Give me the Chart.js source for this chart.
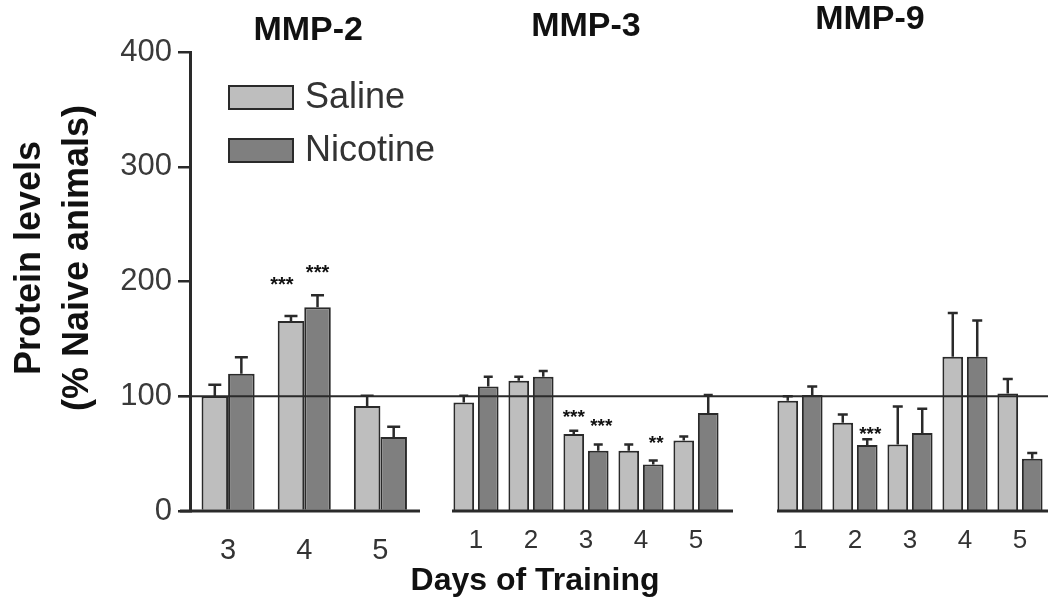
<!DOCTYPE html>
<html>
<head>
<meta charset="utf-8">
<script src="https://cdn.jsdelivr.net/npm/chart.js@4/dist/chart.umd.min.js"></script>
<style>
  html, body { margin: 0; padding: 0; background: #ffffff; }
  #wrap { position: relative; width: 1048px; height: 603px; overflow: hidden; background: #ffffff; }
  #wrap canvas { position: absolute; left: 0; top: 0; }
</style>
</head>
<body>
<div id="wrap">
  <canvas id="c1" width="1048" height="603"></canvas>
  <canvas id="c2" width="1048" height="603"></canvas>
  <canvas id="c3" width="1048" height="603"></canvas>
</div>
<script>
// ---------------- data ----------------
const seriesNames = ['Saline', 'Nicotine'];
const panelTitles = ['MMP-2', 'MMP-3', 'MMP-9'];
const yTitleLines = ['Protein levels', '(% Naive animals)'];
const xTitle = 'Days of Training';
const yTicks = [0, 100, 200, 300, 400];
const referenceLevel = 100;

const mmp2Days = ['3', '4', '5'];
const mmp2Saline = [100, 165.5, 91.5];
const mmp2SalineErr = [10, 4.5, 9];
const mmp2Nicotine = [119.5, 177.5, 64.5];
const mmp2NicotineErr = [14.5, 10.5, 9];
const mmp2SalineStars = ['', '***', ''];
const mmp2NicotineStars = ['', '***', ''];

const mmp3Days = ['1', '2', '3', '4', '5'];
const mmp3Saline = [94.5, 113.5, 67, 52.5, 61.5];
const mmp3SalineErr = [6, 3.5, 3, 5.5, 3.5];
const mmp3Nicotine = [108.5, 117, 52.5, 40.5, 85.5];
const mmp3NicotineErr = [8.5, 5, 5.5, 3.5, 15.5];
const mmp3SalineStars = ['', '', '***', '', ''];
const mmp3NicotineStars = ['', '', '***', '**', ''];

const mmp9Days = ['1', '2', '3', '4', '5'];
const mmp9Saline = [96, 77, 58, 134.5, 102.5];
const mmp9SalineErr = [4, 7, 33, 38, 12.5];
const mmp9Nicotine = [101, 57.5, 68, 134.5, 45.5];
const mmp9NicotineErr = [7.5, 5, 21, 31.5, 5];
const mmp9SalineStars = ['', '', '', '', ''];
const mmp9NicotineStars = ['', '***', '', '', ''];

// ---------------- style ----------------
const FONT = '"Liberation Sans", Arial, Helvetica, sans-serif';
const ink = '#2a2a2a';
const salineFill = '#bebebe';
const nicotineFill = '#7f7f7f';
const CW = 1048, CH = 603;
const plotTop = 52, plotBottom = 511;

Chart.defaults.font.family = FONT;

function makeDatasets(sal, salErr, salStars, nic, nicErr, nicStars) {
  return [
    { label: seriesNames[0], data: sal, errors: salErr, stars: salStars,
      backgroundColor: salineFill, borderColor: ink, borderWidth: 2 },
    { label: seriesNames[1], data: nic, errors: nicErr, stars: nicStars,
      backgroundColor: nicotineFill, borderColor: ink, borderWidth: 2 }
  ];
}

function decor(style) {
  return {
    id: 'decor' + style.key,
    afterDatasetsDraw(chart) {
      const ctx = chart.ctx;
      const a = chart.chartArea;
      const y = chart.scales.y;
      ctx.save();
      // error bars + significance stars
      chart.data.datasets.forEach((ds, di) => {
        const meta = chart.getDatasetMeta(di);
        meta.data.forEach((bar, i) => {
          const v = ds.data[i], e = ds.errors[i];
          const p0 = y.getPixelForValue(v);
          const p1 = y.getPixelForValue(v + e);
          ctx.strokeStyle = ink;
          ctx.lineWidth = 2.5;
          ctx.beginPath();
          ctx.moveTo(bar.x, p0);
          ctx.lineTo(bar.x, p1);
          ctx.moveTo(bar.x - style.cap / 2, p1);
          ctx.lineTo(bar.x + style.cap / 2, p1);
          ctx.stroke();
          const s = ds.stars[i];
          if (s) {
            ctx.fillStyle = '#111';
            ctx.font = 'bold ' + style.starSize + 'px ' + FONT;
            ctx.textAlign = 'center';
            ctx.textBaseline = 'alphabetic';
            ctx.fillText(s, bar.x + style.starDx[di], p1 - style.starGap[di] + 0.58 * style.starSize);
          }
        });
      });
      // reference line at naive level
      const yr = y.getPixelForValue(referenceLevel);
      ctx.strokeStyle = ink;
      ctx.lineWidth = 2;
      ctx.beginPath();
      ctx.moveTo(style.refFrom, yr);
      ctx.lineTo(style.refTo, yr);
      ctx.stroke();
      // x axis line
      ctx.lineWidth = 3;
      ctx.beginPath();
      ctx.moveTo(a.left - style.axisExtL, a.bottom);
      ctx.lineTo(a.right + style.axisExtR, a.bottom);
      ctx.stroke();
      // panel title
      ctx.fillStyle = '#111';
      ctx.font = 'bold 34px ' + FONT;
      ctx.textAlign = 'center';
      ctx.textBaseline = 'middle';
      ctx.fillText(style.title, (a.left + a.right) / 2 + style.titleDx, style.titleY);
      ctx.restore();
    }
  };
}

const extrasLeft = {
  id: 'extrasLeft',
  afterDraw(chart) {
    const ctx = chart.ctx;
    ctx.save();
    // legend
    const ds = chart.data.datasets;
    const boxTops = [85, 138];
    ds.forEach((d, i) => {
      ctx.fillStyle = d.backgroundColor;
      ctx.fillRect(228, boxTops[i], 66, 25);
      ctx.strokeStyle = ink;
      ctx.lineWidth = 2;
      ctx.strokeRect(229, boxTops[i] + 1, 64, 23);
      ctx.fillStyle = '#333';
      ctx.font = '36px ' + FONT;
      ctx.textAlign = 'left';
      ctx.textBaseline = 'middle';
      ctx.fillText(d.label, 305, boxTops[i] + 13);
    });
    // y axis title
    ctx.fillStyle = '#111';
    ctx.font = 'bold 36px ' + FONT;
    ctx.textAlign = 'center';
    ctx.textBaseline = 'alphabetic';
    const xs = [40, 88];
    yTitleLines.forEach((t, i) => {
      ctx.save();
      ctx.translate(xs[i], 258);
      ctx.rotate(-Math.PI / 2);
      ctx.fillText(t, 0, 0);
      ctx.restore();
    });
    ctx.restore();
  }
};

const extrasMid = {
  id: 'extrasMid',
  afterDraw(chart) {
    const ctx = chart.ctx;
    ctx.save();
    ctx.fillStyle = '#111';
    ctx.font = 'bold 32px ' + FONT;
    ctx.textAlign = 'center';
    ctx.textBaseline = 'middle';
    ctx.fillText(xTitle, 535, 581);
    ctx.restore();
  }
};

function makeChart(id, labels, datasets, opt) {
  return new Chart(document.getElementById(id), {
    type: 'bar',
    data: { labels: labels, datasets: datasets },
    options: {
      responsive: false,
      devicePixelRatio: 1,
      animation: false,
      events: [],
      layout: { padding: { top: plotTop, bottom: 0, left: opt.padL, right: opt.padR } },
      categoryPercentage: opt.catPct,
      barPercentage: opt.barPct,
      plugins: { legend: { display: false }, tooltip: { enabled: false }, title: { display: false } },
      scales: {
        x: {
          type: 'category',
          offset: true,
          grid: { display: false, drawTicks: false },
          border: { display: false },
          ticks: { color: '#333', font: { size: opt.xFont }, padding: opt.xPad, maxRotation: 0 },
          afterFit(scale) { scale.height = CH - plotBottom; }
        },
        y: {
          display: opt.showY,
          min: 0, max: 400,
          afterBuildTicks(scale) { scale.ticks = yTicks.map(v => ({ value: v })); },
          ticks: { color: '#3a3a3a', font: { size: 31 }, padding: 6 },
          grid: { drawOnChartArea: false, drawTicks: true, tickLength: 12, color: ink, lineWidth: 2.5 },
          border: { display: true, color: ink, width: 3 },
          afterFit(scale) { if (opt.showY) scale.width = 190; }
        }
      }
    },
    plugins: opt.plugins
  });
}

makeChart('c1', mmp2Days,
  makeDatasets(mmp2Saline, mmp2SalineErr, mmp2SalineStars, mmp2Nicotine, mmp2NicotineErr, mmp2NicotineStars),
  { padL: 0, padR: CW - 418.5, catPct: 0.697, barPct: 1.0, xFont: 29, xPad: 23, showY: true,
    plugins: [decor({ key: 1, title: panelTitles[0], titleDx: 4, titleY: 30.5, cap: 13,
      starSize: 20, starDx: [-9, 0], starGap: [37, 28], refFrom: 178, refTo: 440, axisExtL: 10, axisExtR: 1.5 }), extrasLeft] });

makeChart('c2', mmp3Days,
  makeDatasets(mmp3Saline, mmp3SalineErr, mmp3SalineStars, mmp3Nicotine, mmp3NicotineErr, mmp3NicotineStars),
  { padL: 448.5, padR: CW - 723.5, catPct: 0.89, barPct: 0.845, xFont: 26, xPad: 14.4, showY: false,
    plugins: [decor({ key: 2, title: panelTitles[1], titleDx: 0, titleY: 27, cap: 9,
      starSize: 19, starDx: [0, 3], starGap: [19, 23], refFrom: 440, refTo: 760, axisExtL: -3.5, axisExtR: 9.5 }), extrasMid] });

makeChart('c3', mmp9Days,
  makeDatasets(mmp9Saline, mmp9SalineErr, mmp9SalineStars, mmp9Nicotine, mmp9NicotineErr, mmp9NicotineStars),
  { padL: 772.5, padR: 0.5, catPct: 0.89, barPct: 0.845, xFont: 26, xPad: 14.4, showY: false,
    plugins: [decor({ key: 3, title: panelTitles[2], titleDx: -40, titleY: 20, cap: 10,
      starSize: 19, starDx: [0, 3], starGap: [10, 10], refFrom: 760, refTo: 1048, axisExtL: -4.5, axisExtR: 1 })] });
</script>
</body>
</html>
